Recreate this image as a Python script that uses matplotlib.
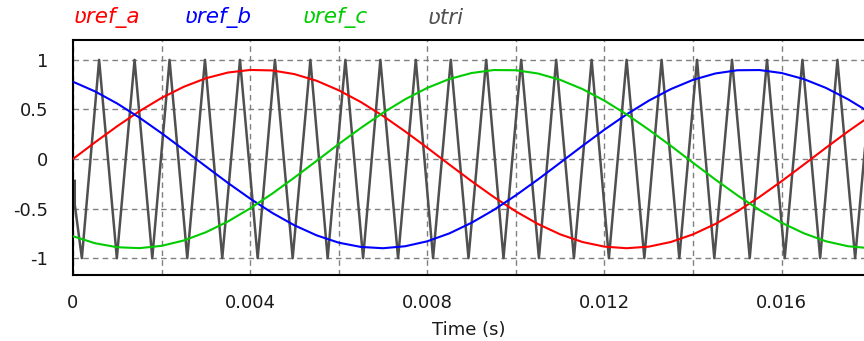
import numpy as np
import matplotlib
matplotlib.use('Agg')
from matplotlib import pyplot as plt

plt.rcParams['font.family'] = ['DejaVu Sans']
plt.rcParams['axes.unicode_minus'] = False

# reference sine waves, read every 0.5 ms
t_ms = np.arange(0, 18.01, 0.5)
vref_a = [0.0, 0.169, 0.331, 0.482, 0.616, 0.728, 0.814, 0.872, 0.898, 0.893,
          0.856, 0.789, 0.693, 0.574, 0.434, 0.278, 0.113, -0.057, -0.224, -0.383,
          -0.529, -0.656, -0.760, -0.837, -0.884, -0.900, -0.884, -0.837, -0.760, -0.656,
          -0.529, -0.383, -0.224, -0.057, 0.113, 0.278, 0.434]
vref_b = [0.779, 0.681, 0.559, 0.417, 0.260, 0.094, -0.075, -0.242, -0.400, -0.544,
          -0.669, -0.770, -0.844, -0.887, -0.900, -0.880, -0.830, -0.750, -0.643, -0.514,
          -0.366, -0.206, -0.038, 0.131, 0.296, 0.450, 0.588, 0.705, 0.798, 0.862,
          0.895, 0.897, 0.867, 0.806, 0.717, 0.602, 0.466]
vref_c = [-0.779, -0.850, -0.890, -0.899, -0.876, -0.822, -0.739, -0.630, -0.498, -0.349,
          -0.187, -0.019, 0.151, 0.313, 0.466, 0.602, 0.717, 0.807, 0.867, 0.897,
          0.895, 0.862, 0.798, 0.706, 0.588, 0.450, 0.296, 0.132, -0.038, -0.206,
          -0.366, -0.514, -0.643, -0.749, -0.830, -0.880, -0.900]

# carrier: start segment, then troughs (-1) and peaks (+1) in ms
tri_start_ms = [0.04, 0.04]
tri_start_v = [-0.22, -0.46]
tri_troughs_ms = [0.20, 0.99, 1.79, 2.58, 3.37, 4.17, 4.96, 5.75, 6.55, 7.34, 8.13, 8.93,
                  9.72, 10.52, 11.31, 12.10, 12.90, 13.69, 14.48, 15.28, 16.07, 16.87, 17.66]
tri_peaks_ms = [0.59, 1.39, 2.18, 2.98, 3.77, 4.56, 5.36, 6.15, 6.94, 7.74, 8.53, 9.33,
                10.12, 10.91, 11.71, 12.50, 13.29, 14.09, 14.88, 15.67, 16.47, 17.26, 18.06]

xticks = [0, 0.004, 0.008, 0.012, 0.016]
xtick_labels = ['0', '0.004', '0.008', '0.012', '0.016']
yticks = [-1, -0.5, 0, 0.5, 1]
ytick_labels = ['-1', '-0.5', '0', '0.5', '1']


def main():
    tri_t = list(tri_start_ms)
    tri_v = list(tri_start_v)
    for tr, pk in zip(tri_troughs_ms, tri_peaks_ms):
        tri_t += [tr, pk]
        tri_v += [-1, 1]
    tri_t = np.array(tri_t) / 1000
    t = t_ms / 1000

    fig = plt.figure(figsize=(8.64, 3.41), dpi=100)
    ax = fig.add_axes([73 / 864, 1 - 275 / 341, (864 - 73) / 864, 235 / 341])

    ax.plot(tri_t, tri_v, color='#505050', lw=1.8, zorder=2)
    ax.plot(t, vref_a, color='#ff0000', lw=1.5, zorder=3)
    ax.plot(t, vref_b, color='#0000ff', lw=1.5, zorder=3)
    ax.plot(t, vref_c, color='#00cc00', lw=1.5, zorder=3)

    ax.set_xlim(0, 0.01786)
    ax.set_ylim(-1.17, 1.2)
    ax.set_xticks(xticks)
    ax.set_xticklabels(xtick_labels)
    ax.set_xticks([0.002, 0.006, 0.010, 0.014], minor=True)
    ax.set_yticks(yticks)
    ax.set_yticklabels(ytick_labels)
    ax.tick_params(axis='both', which='both', length=0, labelsize=13, colors='#1a1a1a')
    ax.tick_params(axis='x', pad=14)
    ax.tick_params(axis='y', pad=18)
    ax.set_axisbelow(True)
    ax.grid(True, which='both', color='#808080', lw=1, ls=(0, (4, 3)))

    for s in ['left', 'top', 'bottom']:
        ax.spines[s].set_linewidth(1.5)
        ax.spines[s].set_color('black')
    ax.spines['right'].set_visible(False)

    ax.set_xlabel('Time (s)', fontsize=13, color='#1a1a1a', labelpad=6)

    # legend labels above the plot
    labels = ['ʋref_a', 'ʋref_b', 'ʋref_c', 'ʋtri']
    colors = ['#ff0000', '#0000ff', '#00cc00', '#505050']
    xs = [74, 185, 303, 428]
    for lab, c, x in zip(labels, colors, xs):
        fig.text(x / 864, 1 - 18 / 341, lab, color=c, fontsize=15.5,
                 style='italic', ha='left', va='center')

    fig.savefig('out.png', dpi=100)


if __name__ == "__main__":
    main()
